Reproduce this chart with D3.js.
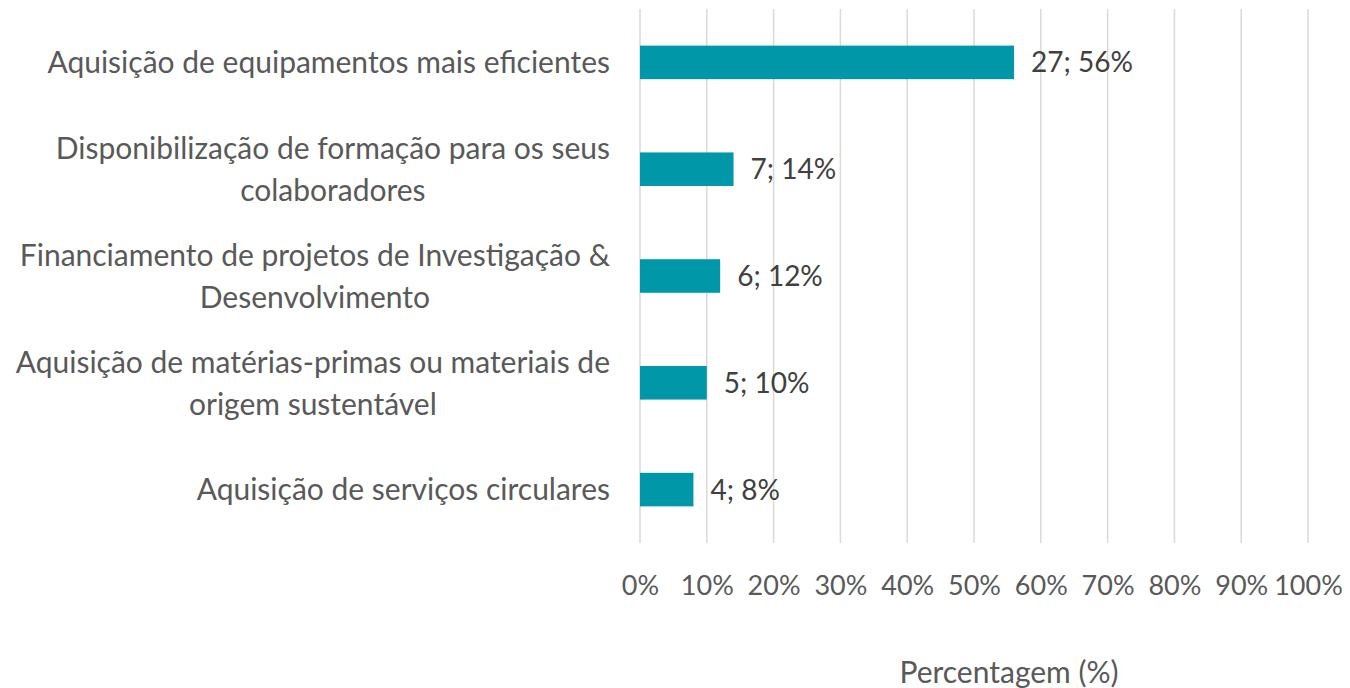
<!DOCTYPE html>
<html><head><meta charset="utf-8">
<script src="https://cdn.jsdelivr.net/npm/d3@7"></script>
<style>body{margin:0;background:#fff}svg{display:block}text{font-family:Lato,"Open Sans",sans-serif}</style>
</head><body>
<svg id="c" width="1350" height="688"></svg>
<script>
const categories = [
  ["Aquisição de equipamentos mais eficientes"],
  ["Disponibilização de formação para os seus", "colaboradores"],
  ["Financiamento de projetos de Investigação &", "Desenvolvimento"],
  ["Aquisição de matérias-primas ou materiais de", "origem sustentável"],
  ["Aquisição de serviços circulares"]
];
const counts = [27, 7, 6, 5, 4];
const percents = [56, 14, 12, 10, 8];
const tickValues = [0,10,20,30,40,50,60,70,80,90,100];
const axisTitle = "Percentagem (%)";

const svg = d3.select("#c");
const m = {left:640, right:42, top:9, bottom:145};
const W = 1350, H = 688;
const x = d3.scaleLinear().domain([0,100]).range([m.left, W - m.right]);
const idx = d3.range(categories.length);
const y = d3.scaleBand().domain(idx).range([m.top, H - m.bottom]).paddingInner(0.686).paddingOuter(0.343);

// gridlines
svg.append("g").selectAll("line").data(tickValues).join("line")
  .attr("x1", d => x(d)).attr("x2", d => x(d))
  .attr("y1", m.top).attr("y2", H - m.bottom)
  .attr("stroke", "#d9d9d9").attr("stroke-width", 1.5);

// bars
svg.append("g").selectAll("rect").data(idx).join("rect")
  .attr("x", x(0)).attr("y", i => y(i))
  .attr("width", i => x(percents[i]) - x(0))
  .attr("height", y.bandwidth())
  .attr("fill", "#0097a9");

// data labels
svg.append("g").selectAll("text").data(idx).join("text")
  .attr("x", i => x(percents[i]) + 17)
  .attr("y", i => y(i) + y.bandwidth()/2)
  .attr("dy", "0.36em")
  .attr("font-size", 28).attr("fill", "#404040")
  .text(i => counts[i] + "; " + percents[i] + "%");

// category labels: block right-aligned at 610, lines centered within block
const rightEdge = 610;
const cl = svg.append("g").selectAll("text").data(idx).join("text")
  .attr("text-anchor", "middle").attr("font-size", 30).attr("fill", "#595959");
cl.each(function(i){
  const lines = categories[i];
  const cy = y(i) + y.bandwidth()/2;
  const lh = 42;
  const t = d3.select(this);
  const spans = lines.map((ln, k) => t.append("tspan")
      .attr("y", cy + (k - (lines.length-1)/2) * lh)
      .attr("dy", "0.36em").text(ln));
  const maxW = d3.max(spans, s => s.node().getComputedTextLength());
  spans.forEach(s => s.attr("x", rightEdge - maxW/2));
});

// x axis tick labels
const ax = svg.append("g").attr("transform", `translate(0,${H - m.bottom + 42})`)
  .call(d3.axisBottom(x).tickValues(tickValues).tickFormat(d => d + "%").tickSize(0).tickPadding(0));
ax.select(".domain").remove();
ax.selectAll("text").attr("font-size", 27).attr("fill", "#595959").attr("font-family", "Lato,'Open Sans',sans-serif").attr("dy", "0.36em");

// axis title
svg.append("text").attr("x", 1009).attr("y", 672).attr("dy", "0.36em")
  .attr("text-anchor", "middle").attr("font-size", 30).attr("fill", "#595959").text(axisTitle);
</script>
</body></html>
